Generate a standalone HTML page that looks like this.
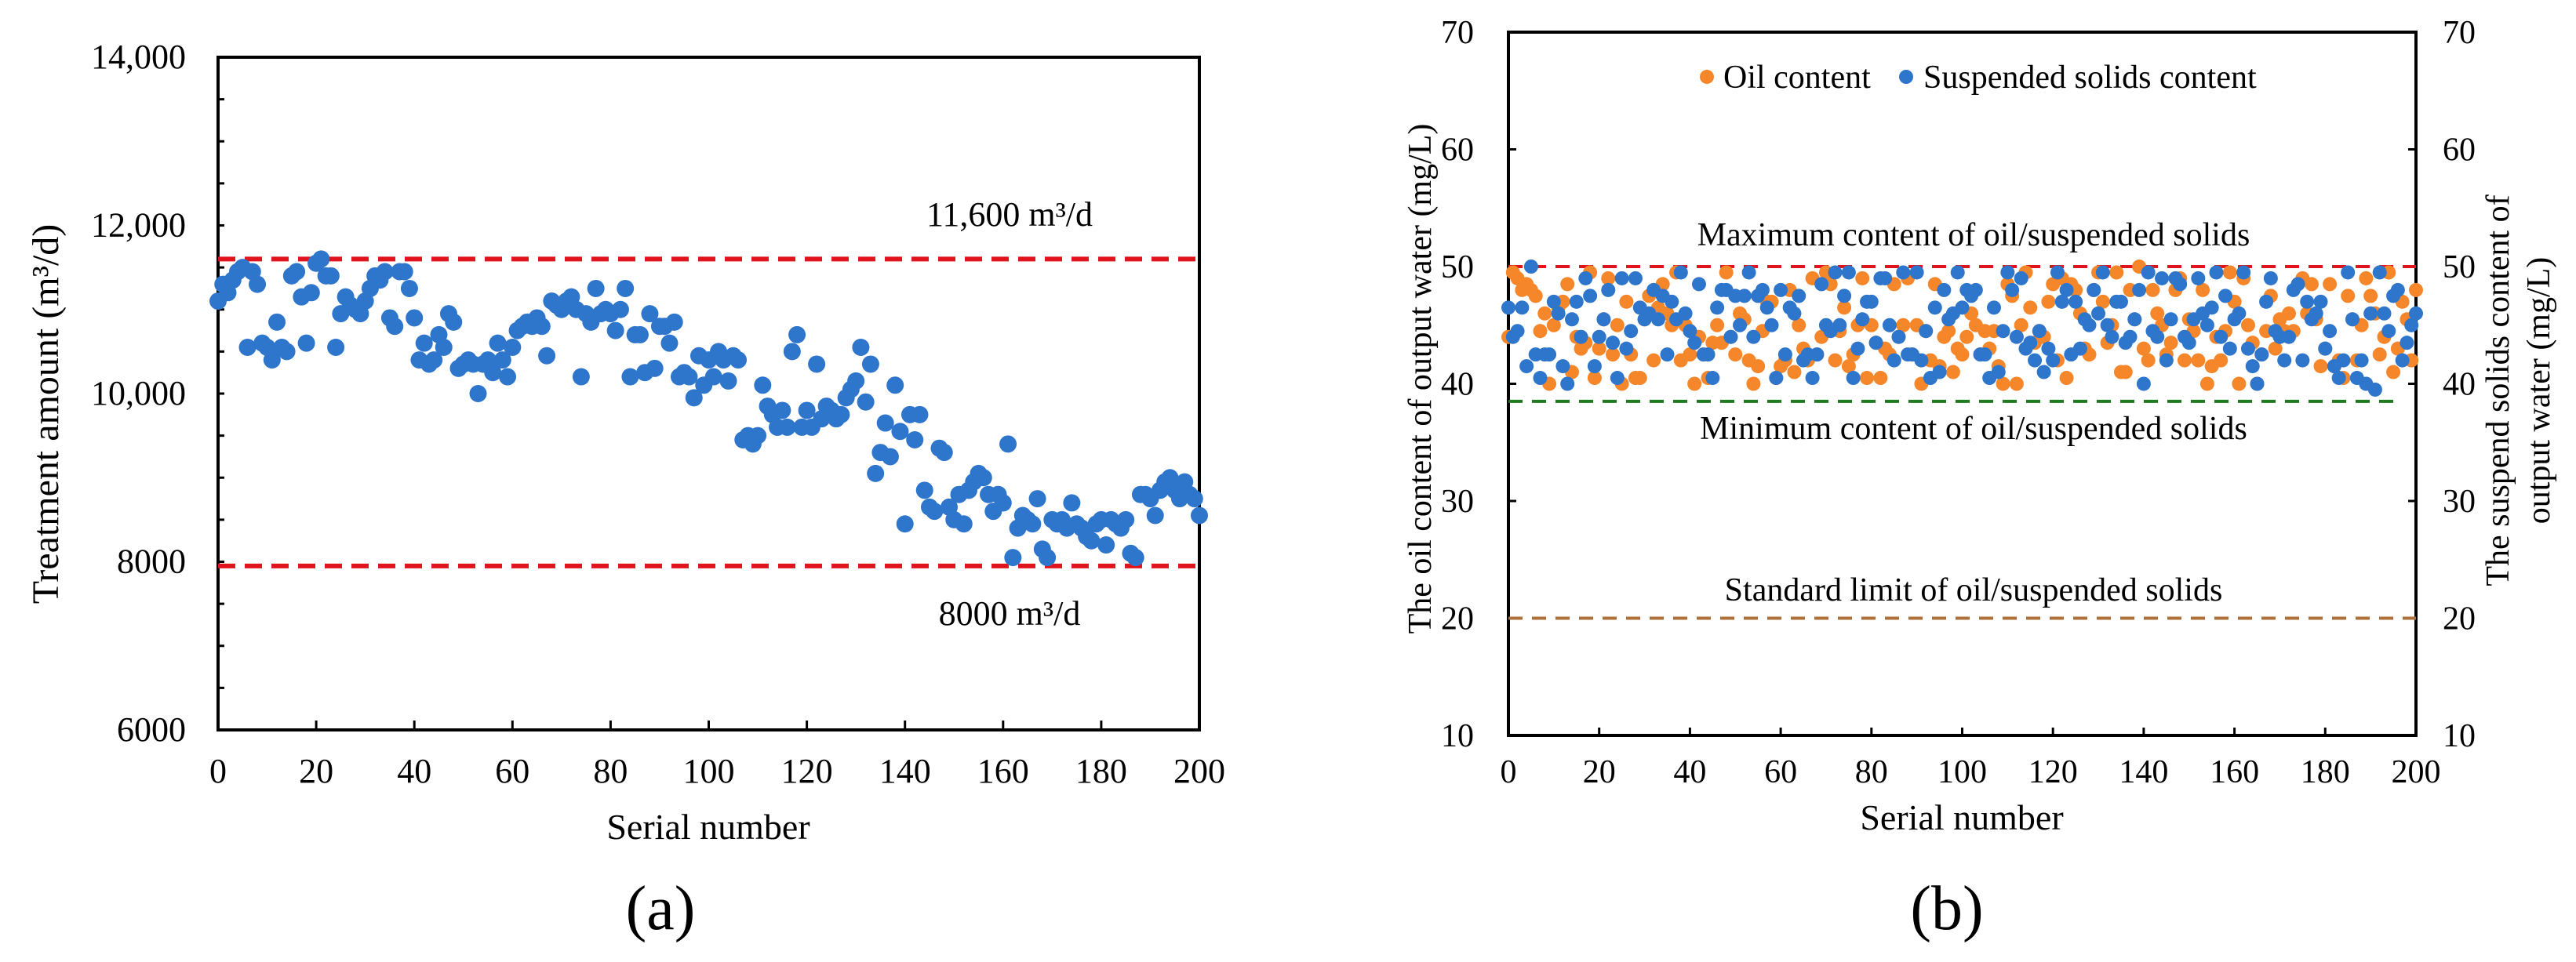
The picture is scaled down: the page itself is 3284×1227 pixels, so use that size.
<!DOCTYPE html>
<html><head><meta charset="utf-8"><style>
html,body{margin:0;padding:0;background:#fff;}
svg, svg text{font-family:"Liberation Serif","Times New Roman",serif;}
</style></head><body>
<svg id="fig" width="3284" height="1222" viewBox="0 0 3284 1222" font-family="Liberation Serif, serif">
<g id="chartA" font-family="Liberation Serif, serif"></g>
<g id="chartB" font-family="Liberation Serif, serif"></g>
</svg>
<script>
const aValues = [11100,11300,11200,11350,11450,11500,10550,11450,11300,10600,
10550,10400,10850,10550,10500,11400,11450,11150,10600,11200,
11550,11600,11400,11400,10550,10950,11150,11050,11000,10950,
11100,11250,11400,11350,11450,10900,10800,11450,11450,11250,
10900,10400,10600,10350,10400,10700,10550,10950,10850,10300,
10350,10400,10350,10000,10350,10400,10250,10600,10400,10200,
10550,10750,10800,10850,10800,10900,10800,10450,11100,11050,
11000,11100,11150,11000,10200,10950,10850,11250,10950,11000,
10950,10750,11000,11250,10200,10700,10700,10250,10950,10300,
10800,10800,10600,10850,10200,10250,10200,9950,10450,10100,
10400,10200,10500,10400,10150,10450,10400,9450,9500,9400,
9500,10100,9850,9750,9600,9800,9600,10500,10700,9600,
9800,9600,10350,9700,9850,9800,9700,9750,9950,10050,
10150,10550,9900,10350,9050,9300,9650,9250,10100,9550,
8450,9750,9450,9750,8850,8650,8600,9350,9300,8650,
8500,8800,8450,8850,8950,9050,9000,8800,8600,8800,
8700,9400,8050,8400,8550,8500,8450,8750,8150,8050,
8500,8450,8500,8400,8700,8450,8400,8300,8250,8450,
8500,8200,8500,8450,8400,8500,8100,8050,8800,8800,
8750,8550,8850,8950,9000,8850,8750,8950,8800,8750,8550];
const aYTicks = [6000,8000,10000,12000,14000];
const aYTickLabels = ["6000","8000","10,000","12,000","14,000"];
const xTicks = [0,20,40,60,80,100,120,140,160,180,200];
const aLimits = [11600,7950];

const oilValues = [44,49.5,49,48,48.5,48,47.5,44.5,46,40,45,46.5,47,48.5,41,44,43,43.5,49.5,40.5,
43,45.5,49,42.5,45,40,47,42.5,40.5,40.5,45.5,47.5,42,46.5,48.5,46,45,49.5,42,45,
42.5,40,44,42.5,40.5,43.5,45,43.5,49.5,44,42.5,46,45.5,42,40,41.5,44.5,47,47,40.5,
41.5,42,48,41,45,43,42,49,42.5,44,49.5,48.5,42,44.5,46.5,41.5,42.5,45,49,40.5,
45,43.5,40.5,43,42.5,48.5,44,45,49,42.5,45,40,44.5,42,48.5,41.5,44,44.5,41,43,
42.5,44,46,45,42.5,44.5,43,44.5,41.5,40,48.5,47.5,40,45,49.5,46.5,43.5,44.5,44,47,
48.5,42,49,40.5,48.5,48,46,43,42.5,48,49.5,47,43.5,45,49.5,41,41,48,45.5,50,
43,42,48,46,45,42.5,43.5,48,49,42,45.5,44.5,42,48,40,41.5,44,42,44.5,49.5,
47,40,49,45,43.5,40,42.5,44.5,47.5,43,45.5,44.5,46,44.5,48.5,49,46,48.5,45.5,41.5,
43,48.5,41.5,42,40.5,47.5,45.5,42,45,49,47.5,46,42.5,44,49.5,41,43,47,45.5,42,48];
const ssValues = [46.5,44,44.5,46.5,41.5,50,42.5,40.5,42.5,42.5,47,46,41.5,40,45.5,47,44,49,47.5,41.5,
44,45.5,48,43.5,40.5,49,43,44.5,49,46.5,45.5,46,48,45.5,47.5,42.5,47,45.5,49.5,46,
44.5,43.5,48.5,42.5,42.5,40.5,46.5,48,48,44,47.5,45,47.5,49.5,44,47.5,48,46.5,45,40.5,
48,42.5,46.5,46,47.5,42,42.5,40.5,42.5,48.5,45,44.5,49.5,45,47.5,49.5,40.5,43,45.5,47,
47,43.5,49,49,45,42,44,49.5,42.5,42.5,49.5,42,44.5,40.5,46.5,41,48,45.5,46,49.5,
46.5,48,47.5,48,42.5,42.5,40.5,46.5,41,44.5,49.5,48,44,49,43,43.5,42,44.5,41,43,
42,49.5,47,48,42.5,47,43,45.5,45,48,46,49.5,45,44,47,47,43.5,44,45.5,48,
40,49.5,44.5,44,49,42,45.5,49,48.5,44,43.5,45.5,49,46,45,46.5,49.5,44,47.5,43,
45.5,46,49.5,43,41.5,40,42.5,47,49,44.5,44,42,44,48,48.5,42,47,45.5,46,47,
43,44.5,41.5,40.5,42,49.5,45.5,40.5,42,40,46,39.5,49.5,46,44.5,47.5,48,42,43.5,45,46];
const bYTicks = [10,20,30,40,50,60,70];
const bLimitMax = 50, bLimitMin = 38.5, bLimitStd = 20;

const NS = "http://www.w3.org/2000/svg";
function mk(parent, tag, attrs, text){
  const e = document.createElementNS(NS, tag);
  for (const k in attrs) e.setAttribute(k, attrs[k]);
  if (tag === 'text') e.setAttribute('font-family', 'Liberation Serif, serif');
  if (text !== undefined) e.textContent = text;
  parent.appendChild(e); return e;
}

/* ---------- Chart A ---------- */
(function(){
  const g = document.getElementById('chartA');
  const L=278, R=1529, T=73, B=931;
  const xs = v => L + (v/200)*(R-L);
  const ys = v => B - (v-6000)/8000*(B-T);
  for (let v=6500; v<14000; v+=500){
    const t = mk(g,'line',{x1:L,x2:L+8,y1:ys(v),y2:ys(v),stroke:'#000','stroke-width':3});
    
    
  }
  aYTicks.forEach((v,i)=>{
    const t = mk(g,'text',{x:237,y:ys(v)+14,'text-anchor':'end','font-size':44},aYTickLabels[i]);
    
    
  });
  xTicks.forEach(v=>{
    const tk = mk(g,'line',{x1:xs(v),x2:xs(v),y1:B,y2:B-12,stroke:'#000','stroke-width':3});
    
    
    const t = mk(g,'text',{x:xs(v),y:998,'text-anchor':'middle','font-size':44},String(v));
    
    
  });
  const fr = mk(g,'rect',{x:L,y:T,width:R-L,height:B-T,fill:'none',stroke:'#000','stroke-width':4});
  
  
  aLimits.forEach(v=>{
    const l = mk(g,'line',{x1:L,x2:R,y1:ys(v),y2:ys(v),stroke:'#e0141c','stroke-width':6,'stroke-dasharray':'22 12'});
    
    
  });
  aValues.forEach((v,i)=>{
    const c = mk(g,'circle',{cx:xs(i),cy:ys(v),r:11,fill:'#2e75cc'});
    
    
  });
  let t;
  t = mk(g,'text',{x:1287,y:288,'text-anchor':'middle','font-size':44},'11,600 m³/d');
   
  t = mk(g,'text',{x:1287,y:797,'text-anchor':'middle','font-size':44},'8000 m³/d');
   
  t = mk(g,'text',{x:903,y:1070,'text-anchor':'middle','font-size':46},'Serial number');
   
  t = mk(g,'text',{x:0,y:0,'text-anchor':'middle','font-size':48,transform:'translate(74,528) rotate(-90)'},'Treatment amount (m³/d)');
   
  t = mk(g,'text',{x:842,y:1185,'text-anchor':'middle','font-size':80},'(a)');
   
})();

/* ---------- Chart B ---------- */
(function(){
  const g = document.getElementById('chartB');
  const L=1923, R=3080, T=41, B=938;
  const xs = v => L + (v/200)*(R-L);
  const ys = v => B - (v-10)/60*(B-T);
  bYTicks.forEach(v=>{
    let k = mk(g,'line',{x1:L,x2:L+10,y1:ys(v),y2:ys(v),stroke:'#000','stroke-width':3});
     
    k = mk(g,'line',{x1:R,x2:R-10,y1:ys(v),y2:ys(v),stroke:'#000','stroke-width':3});
     
    let t = mk(g,'text',{x:1879,y:ys(v)+14,'text-anchor':'end','font-size':42},String(v));
     
    t = mk(g,'text',{x:3114,y:ys(v)+14,'text-anchor':'start','font-size':42},String(v));
     
  });
  xTicks.forEach(v=>{
    const tk = mk(g,'line',{x1:xs(v),x2:xs(v),y1:B,y2:B-10,stroke:'#000','stroke-width':3});
     
    const t = mk(g,'text',{x:xs(v),y:998,'text-anchor':'middle','font-size':42},String(v));
     
  });
  const fr = mk(g,'rect',{x:L,y:T,width:R-L,height:B-T,fill:'none',stroke:'#000','stroke-width':4});
   
  let l;
  l = mk(g,'line',{x1:L,x2:R,y1:ys(bLimitMax),y2:ys(bLimitMax),stroke:'#e0141c','stroke-width':4,'stroke-dasharray':'18 12'});
   
  l = mk(g,'line',{x1:L,x2:3055,y1:ys(bLimitMin),y2:ys(bLimitMin),stroke:'#1e7a1e','stroke-width':4,'stroke-dasharray':'18 12'});
   
  l = mk(g,'line',{x1:L,x2:R,y1:ys(bLimitStd),y2:ys(bLimitStd),stroke:'#b0703a','stroke-width':4,'stroke-dasharray':'18 12'});
   
  oilValues.forEach((v,i)=>{
    const c = mk(g,'circle',{cx:xs(i),cy:ys(v),r:9,fill:'#f5862a'});
     
  });
  ssValues.forEach((v,i)=>{
    const c = mk(g,'circle',{cx:xs(i),cy:ys(v),r:9,fill:'#2e75cc'});
     
  });
  let c = mk(g,'circle',{cx:2176,cy:98,r:9,fill:'#f5862a'});
   
  let t = mk(g,'text',{x:2197,y:112,'font-size':42},'Oil content');
   
  c = mk(g,'circle',{cx:2430,cy:98,r:9,fill:'#2e75cc'});
   
  t = mk(g,'text',{x:2452,y:112,'font-size':42},'Suspended solids content');
   
  t = mk(g,'text',{x:2516,y:313,'text-anchor':'middle','font-size':42},'Maximum content of oil/suspended solids');
   
  t = mk(g,'text',{x:2516,y:560,'text-anchor':'middle','font-size':42},'Minimum content of oil/suspended solids');
   
  t = mk(g,'text',{x:2516,y:766,'text-anchor':'middle','font-size':42},'Standard limit of oil/suspended solids');
   
  t = mk(g,'text',{x:2501,y:1058,'text-anchor':'middle','font-size':46},'Serial number');
   
  t = mk(g,'text',{x:0,y:0,'text-anchor':'middle','font-size':42,transform:'translate(1824,483) rotate(-90)'},'The oil content of output water (mg/L)');
   
  t = mk(g,'text',{x:0,y:0,'text-anchor':'middle','font-size':42,transform:'translate(3198,498) rotate(-90)'},'The suspend solids content of');
   
  t = mk(g,'text',{x:0,y:0,'text-anchor':'middle','font-size':42,transform:'translate(3250,498) rotate(-90)'},'output water (mg/L)');
   
  t = mk(g,'text',{x:2482,y:1185,'text-anchor':'middle','font-size':80},'(b)');
   
})();
</script>
</body></html>
